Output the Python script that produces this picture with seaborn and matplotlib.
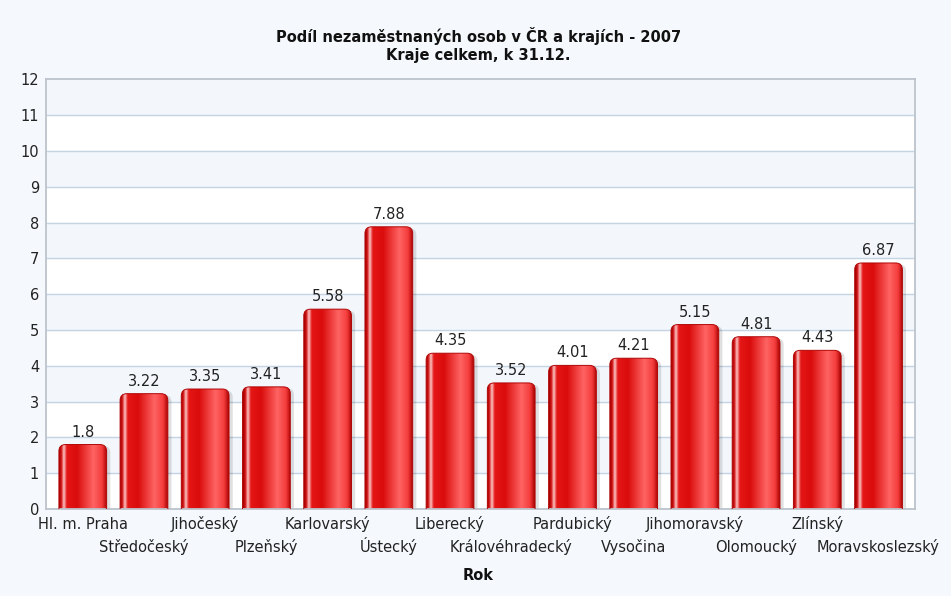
import numpy as np
import pandas as pd
import matplotlib
matplotlib.use("Agg")
import matplotlib.pyplot as plt
import seaborn as sns
from matplotlib.patches import FancyBboxPatch
from matplotlib.colors import LinearSegmentedColormap

regions = ["Hl. m. Praha", "Středočeský", "Jihočeský", "Plzeňský", "Karlovarský",
           "Ústecký", "Liberecký", "Královéhradecký", "Pardubický", "Vysočina",
           "Jihomoravský", "Olomoucký", "Zlínský", "Moravskoslezský"]
values = [1.8, 3.22, 3.35, 3.41, 5.58, 7.88, 4.35, 3.52, 4.01, 4.21, 5.15, 4.81, 4.43, 6.87]
yticks = list(range(0, 13))

df = pd.DataFrame({"kraj": regions, "podil": values})

sns.set_theme(style="white")
plt.rcParams["font.family"] = ["DejaVu Sans"]

bg = "#f5f9fd"
fig = plt.figure(figsize=(9.51, 5.96), dpi=100, facecolor=bg)
ax = fig.add_axes([0.0484, 0.146, 0.914, 0.721])
ax.set_facecolor("white")

sns.barplot(data=df, x="kraj", y="podil", ax=ax, width=0.78, color="#e01010")
bars = list(ax.patches)

ax.set_xlim(-0.6, len(regions) - 0.4)
ax.set_ylim(0, 12)

# alternating light bands + grid lines
for y in range(1, 12, 2):
    ax.axhspan(y, y + 1, color="#f3f7fc", zorder=0)
for y in yticks[1:-1]:
    ax.axhline(y, color="#c5d3e2", lw=1.0, zorder=0.5)

# bar gradient
cmap = LinearSegmentedColormap.from_list("bar", [
    (0.0, "#a00000"), (0.05, "#d41010"), (0.10, "#ffd0d0"), (0.16, "#e41616"),
    (0.38, "#da0c0c"), (0.72, "#ff6464"), (0.90, "#f43c3c"), (1.0, "#a80000")])
grad = np.linspace(0, 1, 256).reshape(1, -1)
x_px = 0.914 * 951 / (len(regions) + 0.2)
y_px = 0.721 * 596 / 12
asp = x_px / y_px
r = 0.11

for p in bars:
    x, w, h = p.get_x(), p.get_width(), p.get_height()
    p.set_visible(False)
    shadow = FancyBboxPatch((x + 0.06, -1), w, h + 1 - 0.04,
                            boxstyle=f"round,pad=0,rounding_size={r}",
                            mutation_aspect=asp, facecolor="#000000", alpha=0.12,
                            edgecolor="none", zorder=1.5)
    ax.add_patch(shadow)
    body = FancyBboxPatch((x, -1), w, h + 1,
                          boxstyle=f"round,pad=0,rounding_size={r}",
                          mutation_aspect=asp, facecolor="none",
                          edgecolor="#b00606", lw=0.7, zorder=3)
    ax.add_patch(body)
    im = ax.imshow(grad, cmap=cmap, aspect="auto", extent=[x, x + w, 0, h],
                   zorder=2, interpolation="bicubic")
    im.set_clip_path(body)
    ax.text(x + w / 2, h + 0.14, f"{h:g}", ha="center", va="bottom",
            fontsize=10.5, color="#222222")

ax.set_xlim(-0.6, len(regions) - 0.4)
ax.set_ylim(0, 12)

ax.set_yticks(yticks)
ax.set_yticklabels([str(t) for t in yticks], fontsize=10.5, color="#222222")
ax.tick_params(axis="y", length=0, pad=5)
ax.set_xticks(range(len(regions)))
ax.set_xticklabels([])
ax.tick_params(axis="x", length=0)
for i, name in enumerate(regions):
    off = -0.047 if i % 2 == 0 else -0.100
    ax.text(i, off, name, transform=ax.get_xaxis_transform(), ha="center",
            va="baseline", fontsize=10.5, color="#222222")

ax.set_xlabel("")
ax.set_ylabel("")
for s in ax.spines.values():
    s.set_color("#bcc3cc")
    s.set_linewidth(1.3)

fig.text(0.503, 0.94, "Podíl nezaměstnaných osob v ČR a krajích - 2007", ha="center",
         va="center", fontsize=10.5, fontweight="bold", color="#111111")
fig.text(0.503, 0.907, "Kraje celkem, k 31.12.", ha="center", va="center",
         fontsize=10.5, fontweight="bold", color="#111111")
fig.text(0.503, 0.035, "Rok", ha="center", va="center", fontsize=10.5,
         fontweight="bold", color="#111111")

fig.savefig("out.png", dpi=100, facecolor=bg)
